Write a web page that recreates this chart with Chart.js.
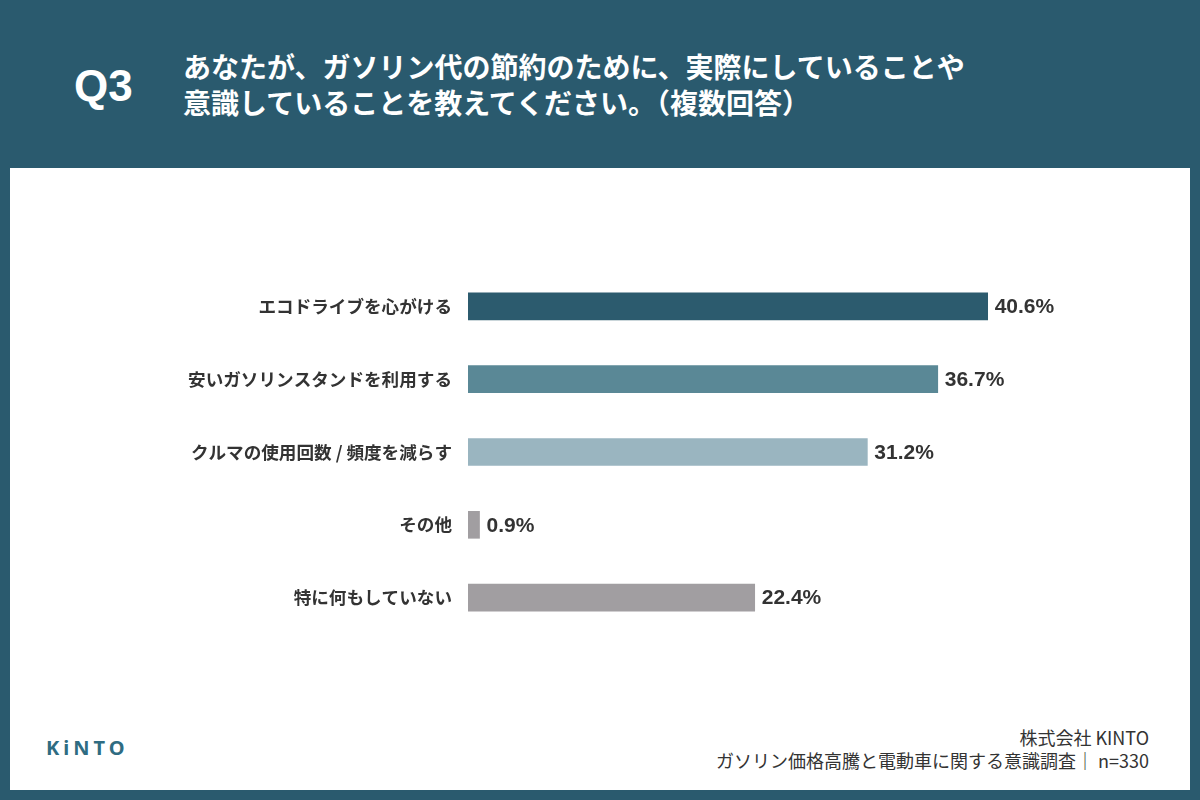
<!DOCTYPE html>
<html lang="ja">
<head>
  <meta charset="UTF-8">
  <title>Q3 ガソリン代の節約</title>
  <script src="https://cdn.jsdelivr.net/npm/chart.js"></script>
  <style>
    body {
      margin: 0;
      width: 1200px;
      height: 800px;
      background-color: #2a5a6e;
      font-family: 'Noto Sans CJK JP', 'Noto Sans', sans-serif;
      position: relative;
      overflow: hidden;
    }
    .q {
      position: absolute;
      left: 74px;
      top: 60px;
      color: #fff;
      font: bold 44px 'Liberation Sans', sans-serif;
      line-height: 52px;
    }
    .titulo {
      position: absolute;
      left: 183px;
      top: 48px;
      color: #fff;
      font-weight: bold;
      font-size: 28px;
      line-height: 36px;
    }
    .panel {
      position: absolute;
      left: 10px;
      top: 168px;
      width: 1180px;
      height: 622px;
      background: #fff;
    }
    .grafico {
      position: absolute;
      left: 0;
      top: 250px;
      width: 1200px;
      height: 420px;
    }
    .logo {
      position: absolute;
      left: 46px;
      top: 734px;
      color: #2f6c82;
      font: bold 20px 'Noto Sans', sans-serif;
      letter-spacing: 4px;
    }
    .fuente {
      position: absolute;
      right: 51px;
      top: 726px;
      text-align: right;
      color: #333;
      font-size: 18px;
      line-height: 23px;
    }
  </style>
</head>
<body>
  <div class="q">Q3</div>
  <div class="titulo">あなたが、ガソリン代の節約のために、実際にしていることや<br>意識していることを教えてください。（複数回答）</div>
  <div class="panel"></div>
  <div class="grafico"><canvas id="graficaBarras"></canvas></div>
  <div class="logo">KiNTO</div>
  <div class="fuente">株式会社 KINTO<br>ガソリン価格高騰と電動車に関する意識調査｜ n=330</div>

<script>
const categorias = ['エコドライブを心がける', '安いガソリンスタンドを利用する', 'クルマの使用回数 / 頻度を減らす', 'その他', '特に何もしていない'];
const porcentajes = [40.6, 36.7, 31.2, 0.9, 22.4];
const colores = ['#2c5b6e', '#5a8896', '#9ab5c0', '#a19ea1', '#a19ea1'];

// etiquetas de valor al final de cada barra
const etiquetas = {
  id: 'etiquetas',
  afterDatasetsDraw(chart) {
    const ctx = chart.ctx;
    const meta = chart.getDatasetMeta(0);
    ctx.save();
    ctx.font = "bold 21px 'Liberation Sans', sans-serif";
    ctx.fillStyle = '#333';
    ctx.textBaseline = 'middle';
    meta.data.forEach((bar, i) => {
      ctx.fillText(porcentajes[i].toFixed(1) + '%', bar.x + 7, bar.y + 1);
    });
    ctx.restore();
  }
};

new Chart(document.getElementById('graficaBarras'), {
  type: 'bar',
  data: {
    labels: categorias,
    datasets: [{ data: porcentajes, backgroundColor: colores, barThickness: 27 }]
  },
  options: {
    indexAxis: 'y',
    responsive: true,
    maintainAspectRatio: false,
    animation: false,
    layout: { padding: { top: 20, bottom: 36, right: 92, left: 0 } },
    plugins: { legend: { display: false }, tooltip: { enabled: false } },
    scales: {
      x: { display: false, min: 0, max: 50 },
      y: {
        afterFit: s => { s.width = 468; s.paddingTop = 0; s.paddingBottom = 0; },
        grid: { display: false, drawTicks: false },
        border: { display: false },
        ticks: {
          padding: 16,
          color: '#333',
          font: { family: "'Noto Sans CJK JP', sans-serif", size: 17.6, weight: 'bold' }
        }
      }
    }
  },
  plugins: [etiquetas]
});
</script>
</body>
</html>
